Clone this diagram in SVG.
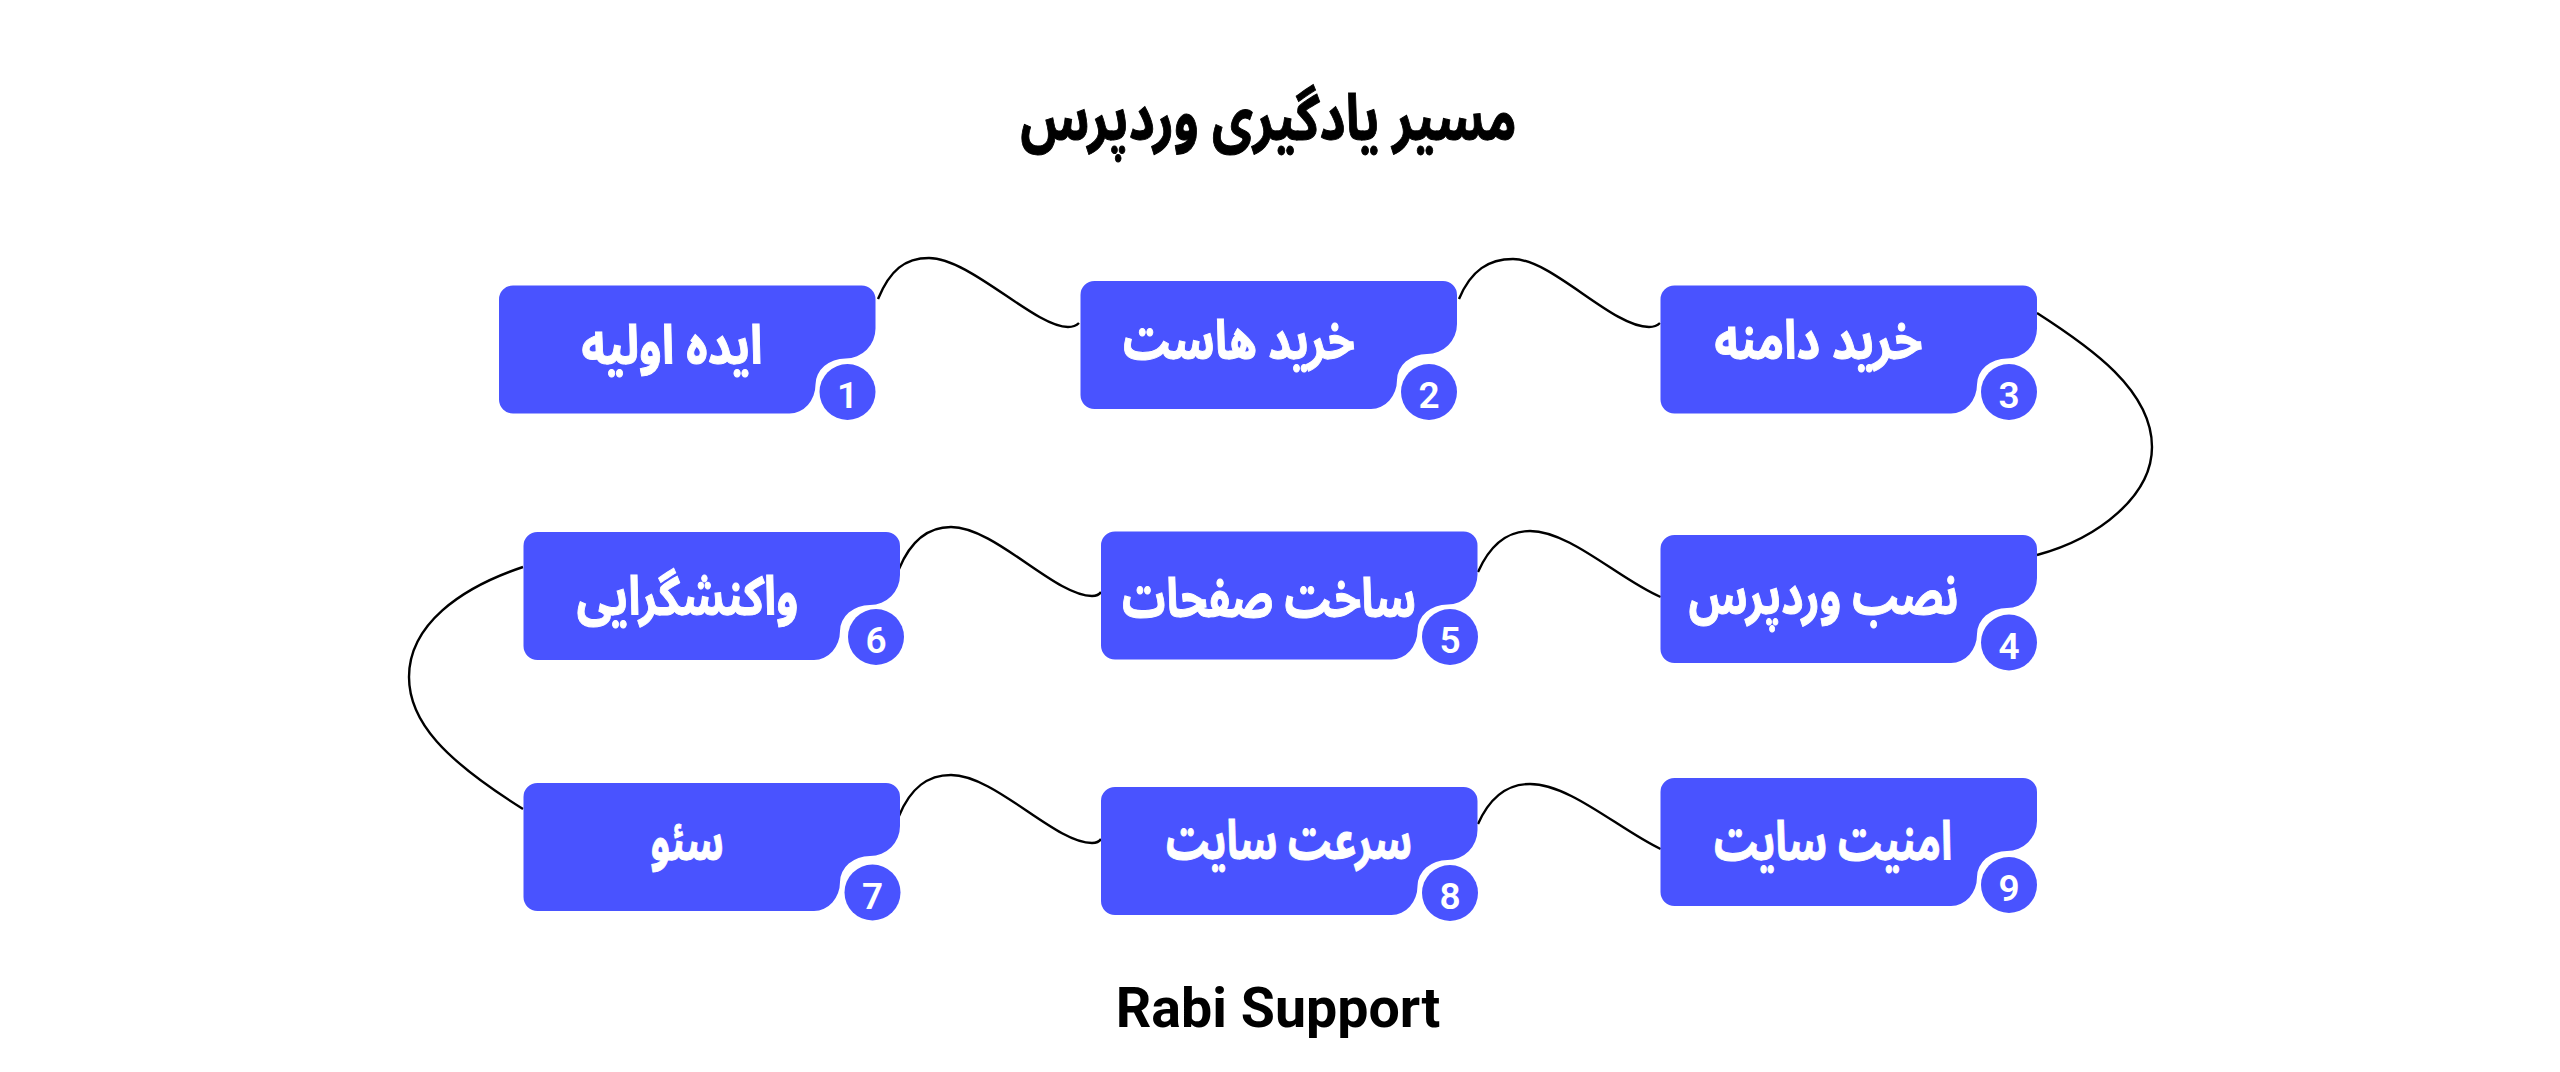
<svg xmlns="http://www.w3.org/2000/svg" width="2560" height="1072" viewBox="0 0 2560 1072">
<style>
.n{fill:#4953ff}
.c{fill:none;stroke:#000;stroke-width:2.4}
.t{font-family:"Noto Sans Arabic","Noto Sans","DejaVu Sans",sans-serif;font-weight:700;text-anchor:middle;direction:rtl}
.l{fill:#fff;font-size:54px;stroke:#fff;stroke-width:1}
.d{font-family:Roboto,sans-serif;font-weight:600;font-size:37px;fill:#fff;text-anchor:middle}
</style>
<defs><path id="b" d="M14 0H362.500A14 14 0 0 1 376.500 14V43A30 30 0 0 1 346.500 73A30 26 0 0 0 316.500 99A26 29 0 0 1 290.500 128H14A14 14 0 0 1 0 114V14A14 14 0 0 1 14 0Z"/></defs>
<rect width="2560" height="1072" fill="#fff"/>
<text class="t" transform="translate(1268.500 140) scale(.787 1)" font-size="64" fill="#000" stroke="#000" stroke-width="1">مسیر یادگیری وردپرس</text>
<g id="connectors">
<path class="c" d="M878 299C890 270 905 258 929 258C970 258 1035 327 1068 327C1072 327 1077 325 1079 323"/>
<path class="c" d="M1459 299C1471 270 1489 259 1513 259C1552 259 1612 327 1649 327C1653 327 1658 325 1660 323"/>
<path class="c" d="M2037 313C2090 347 2152 390 2152 447C2152 495 2100 538 2037 555"/>
<path class="c" d="M1478 572C1490 545 1507 531 1530 531C1570 531 1620 580 1660.600 597"/>
<path class="c" d="M899 569C911 540 928 527 951 527C995 527 1055 596 1092 596C1095 596 1099 595 1101 592"/>
<path class="c" d="M523 567C460 588 409 625 409 677C409 722 445 760 523 809"/>
<path class="c" d="M899 816C911 787 928 775 951 775C995 775 1055 843 1092 843C1095 843 1099 842 1101 839"/>
<path class="c" d="M1478 824C1490 797 1507 784 1530 784C1570 784 1620 830 1660.600 849"/>
</g>
<g id="node1"><use class="n" href="#b" x="499" y="285.500"/><circle class="n" cx="847.500" cy="392" r="28"/><text class="t l" transform="translate(672 364) scale(.846 1)">ایده اولیه</text><text class="d" x="847.500" y="408">1</text></g>
<g id="node2"><use class="n" href="#b" x="1080.500" y="281"/><circle class="n" cx="1429" cy="392" r="28"/><text class="t l" transform="translate(1239 359) scale(.812 1)">خرید هاست</text><text class="d" x="1429" y="408">2</text></g>
<g id="node3"><use class="n" href="#b" x="1660.500" y="285.500"/><circle class="n" cx="2009" cy="392" r="28"/><text class="t l" transform="translate(1818.500 359) scale(.846 1)">خرید دامنه</text><text class="d" x="2009" y="408">3</text></g>
<g id="node4"><use class="n" href="#b" x="1660.500" y="535"/><circle class="n" cx="2009" cy="642.500" r="28"/><text class="t l" transform="translate(1823.500 614) scale(.797 1)">نصب وردپرس</text><text class="d" x="2009" y="659">4</text></g>
<g id="node5"><use class="n" href="#b" x="1101" y="531.500"/><circle class="n" cx="1450" cy="637" r="28"/><text class="t l" transform="translate(1269 617) scale(.801 1)">ساخت صفحات</text><text class="d" x="1450" y="653">5</text></g>
<g id="node6"><use class="n" href="#b" x="523.500" y="532"/><circle class="n" cx="876" cy="637" r="28"/><text class="t l" transform="translate(687.500 615) scale(.822 1)">واکنشگرایی</text><text class="d" x="876" y="653">6</text></g>
<g id="node7"><use class="n" href="#b" x="523.500" y="783"/><circle class="n" cx="872.500" cy="892.500" r="28"/><text class="t l" transform="translate(687 860) scale(.73 1)">سئو</text><text class="d" x="872.500" y="909">7</text></g>
<g id="node8"><use class="n" href="#b" x="1101" y="787"/><circle class="n" cx="1450" cy="893" r="28"/><text class="t l" transform="translate(1289 859) scale(.746 1)">سرعت سایت</text><text class="d" x="1450" y="909">8</text></g>
<g id="node9"><use class="n" href="#b" x="1660.500" y="778"/><circle class="n" cx="2009" cy="885" r="28"/><text class="t l" transform="translate(1833 860) scale(.758 1)">امنیت سایت</text><text class="d" x="2009" y="901">9</text></g>
<text x="1278" y="1027" font-family="Roboto,sans-serif" font-weight="700" font-size="55.500" text-anchor="middle">Rabi Support</text>
</svg>
